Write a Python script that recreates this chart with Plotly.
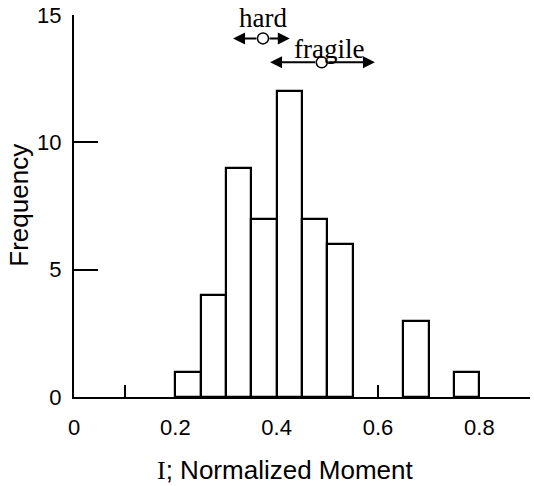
import plotly.graph_objects as go

# Histogram data
bin_left = [0.20, 0.25, 0.30, 0.35, 0.40, 0.45, 0.50, 0.65, 0.75]
frequency = [1, 4, 9, 7, 12, 7, 6, 3, 1]
bin_width = 0.05

# Range markers (center, low, high, y level)
hard = {"center": 0.373, "low": 0.314, "high": 0.426, "y": 14.08}
fragile = {"center": 0.489, "low": 0.387, "high": 0.594, "y": 13.14}

x_tickvals = [0, 0.1, 0.2, 0.3, 0.4, 0.5, 0.6, 0.7, 0.8, 0.9]
x_ticktext = ["0", "", "0.2", "", "0.4", "", "0.6", "", "0.8", ""]
y_tickvals = [0, 5, 10, 15]

fig = go.Figure()
fig.add_trace(go.Bar(
    x=[b + bin_width / 2 for b in bin_left], y=frequency, width=bin_width,
    marker=dict(color="white", line=dict(color="black", width=2.2)),
    showlegend=False, hoverinfo="skip"))

fig.add_trace(go.Scatter(
    x=[hard["center"], fragile["center"]], y=[hard["y"], fragile["y"]],
    mode="markers", cliponaxis=False, showlegend=False,
    marker=dict(symbol="circle", size=11, color="white",
                line=dict(color="black", width=1.5))))

annotations = []
for rng in (hard, fragile):
    for end in (rng["low"], rng["high"]):
        annotations.append(dict(
            x=end, y=rng["y"], ax=rng["center"], ay=rng["y"],
            xref="x", yref="y", axref="x", ayref="y", text="",
            showarrow=True, arrowhead=2, arrowsize=1.2, arrowwidth=2,
            arrowcolor="black", standoff=0, startstandoff=5))

serif = "Liberation Serif, Times New Roman, serif"
annotations += [
    dict(x=hard["center"], y=14.9, xref="x", yref="y", text="hard",
         showarrow=False, font=dict(family=serif, size=27, color="black")),
    dict(x=0.503, y=13.68, xref="x", yref="y", text="fragile",
         showarrow=False, font=dict(family=serif, size=27, color="black")),
    dict(x=0.463, y=-0.233, xref="paper", yref="paper", yanchor="bottom",
         xanchor="center", borderpad=0,
         text="<span style='font-family:Liberation Serif'>I</span>; Normalized Moment",
         showarrow=False, font=dict(family="Liberation Sans, Arial", size=26, color="black")),
    dict(x=-0.121, y=0.503, xref="paper", yref="paper", textangle=-90,
         xanchor="center", yanchor="middle",
         text="Frequency", showarrow=False,
         font=dict(family="Liberation Sans, Arial", size=26, color="black")),
]

fig.update_layout(
    width=534, height=486,
    margin=dict(l=74, r=4, t=15, b=89),
    plot_bgcolor="white", paper_bgcolor="white",
    bargap=0,
    annotations=annotations,
    font=dict(family="Liberation Sans, Arial", size=22, color="black"),
    xaxis=dict(range=[0, 0.9], tickvals=x_tickvals, ticktext=x_ticktext,
               ticks="inside", ticklen=12, tickwidth=2, tickcolor="black",
               showline=True, linecolor="black", linewidth=2,
               showgrid=False, zeroline=False, ticklabelstandoff=10),
    yaxis=dict(range=[0, 15], tickvals=y_tickvals,
               ticks="inside", ticklen=24, tickwidth=2, tickcolor="black",
               showline=True, linecolor="black", linewidth=2,
               showgrid=False, zeroline=False, ticklabelstandoff=6),
)

fig.write_html("out.html")
